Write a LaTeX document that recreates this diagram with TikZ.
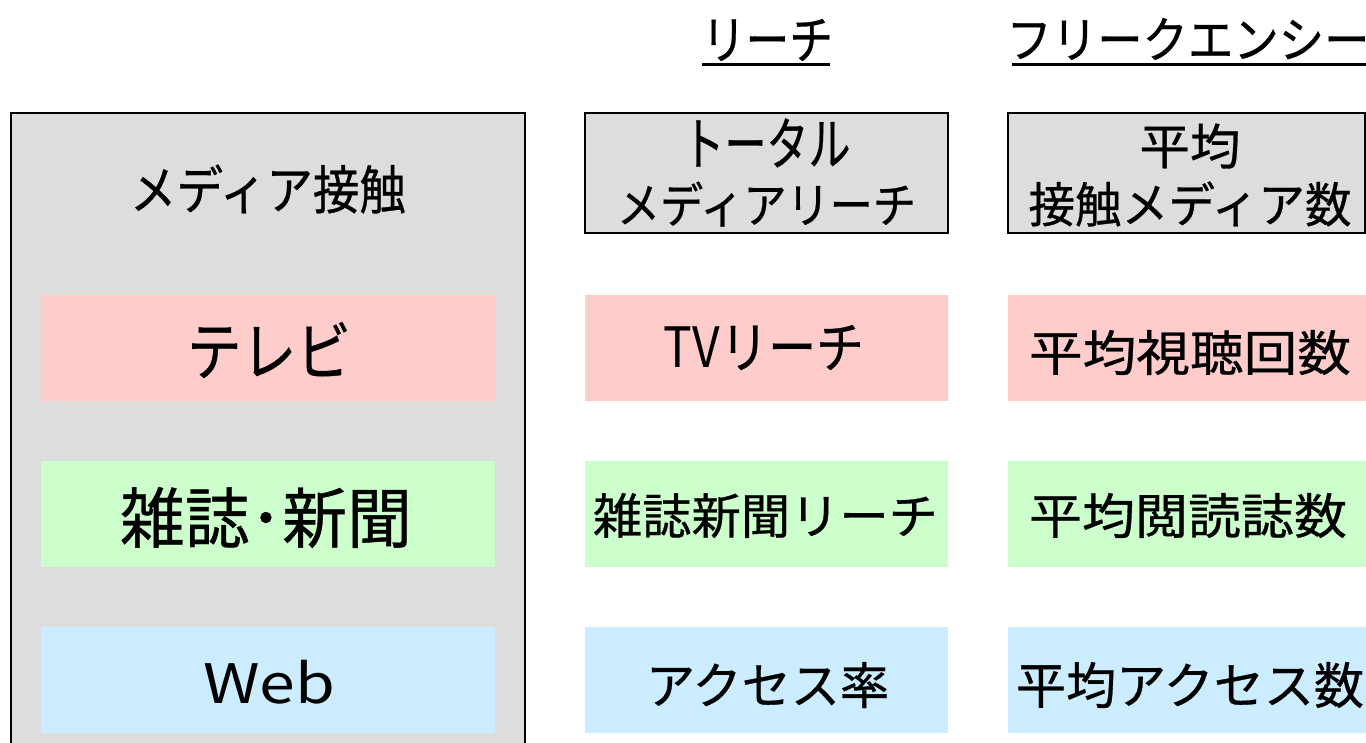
\documentclass[tikz,border=0pt]{standalone}
\usepackage{fontspec}
\setmainfont{Noto Sans CJK JP}
\newfontfamily\jpb[FakeBold=0.6]{Noto Sans CJK JP}
\usepackage{graphicx}
\definecolor{boxgray}{HTML}{DDDDDD}
\definecolor{tvpink}{HTML}{FFCCCC}
\definecolor{prgreen}{HTML}{CCFFCC}
\definecolor{webblue}{HTML}{CCECFF}
\newcommand{\fb}[3]{\resizebox*{#1pt}{#2pt}{\jpb #3}}
\begin{document}
\begin{tikzpicture}[x=1pt,y=-1pt,
  panel/.style={fill=boxgray, draw=black, line width=1.5pt, inner sep=0pt, outer sep=0pt},
  cell/.style={draw=none, inner sep=0pt, outer sep=0pt, minimum height=106pt},
  leftcell/.style={cell, minimum width=454pt},
  midcell/.style={cell, minimum width=363pt},
  rightcell/.style={cell, minimum width=358pt},
  txt/.style={inner sep=0pt, outer sep=0pt, anchor=center},
  two/.style={txt, align=center, font=\fontsize{10}{58}\selectfont},
  uline/.style={line width=2.2pt},
]
\useasboundingbox (0,0) rectangle (1366,742);
\clip (0,0) rectangle (1366,742);

% left panel
\node[panel, minimum width=514pt, minimum height=660pt] (media) at (268,443) {};
\node[txt] (tmedia) at (268,189) {\fb{276}{49}{メディア接触}};
\node[leftcell, fill=tvpink] (tv) at (268,348) {};
\node[txt] (ttv) at (269,350) {\fb{164}{56}{テレビ}};
\node[leftcell, fill=prgreen] (pr) at (268,514) {};
\node[txt] (tpr) at (266,517.5) {\fb{292}{61}{雑誌･新聞}};
\node[leftcell, fill=webblue] (web) at (268,680) {};
\node[txt] (tweb) at (269,682) {\resizebox*{132pt}{44pt}{Web}};

% headers
\node[txt] (hreach) at (767.5,40) {\fb{131}{42}{リーチ}};
\node[txt] (hfreq) at (1188,39) {\fb{363}{42}{フリークエンシー}};
\draw[uline] (702,64.5) -- (830,64.5);
\draw[uline] (1012,64.5) -- (1366,64.5);

% reach column
\node[panel, minimum width=363pt, minimum height=120pt] (total) at (766.5,173) {};
\node[two] (ttotal) at (766.5,172.5) {\fb{168}{49}{トータル}\\\fb{299}{45}{メディアリーチ}};
\node[midcell, fill=tvpink] (tvr) at (766.5,348) {};
\node[txt] (ttvr) at (764,347.5) {\resizebox*{200pt}{45pt}{TV\jpb リーチ}};
\node[midcell, fill=prgreen] (prr) at (766.5,514) {};
\node[txt] (tprr) at (765.5,515.5) {\fb{345}{45}{雑誌新聞リーチ}};
\node[midcell, fill=webblue] (webr) at (766.5,680) {};
\node[txt] (twebr) at (767.5,685) {\fb{243}{46}{アクセス率}};

% frequency column
\node[panel, minimum width=357pt, minimum height=120pt] (avg) at (1186.5,173) {};
\node[two] (tavg) at (1190,175) {\fb{101}{45}{平均}\\\fb{323}{45}{接触メディア数}};
\node[rightcell, fill=tvpink] (tvf) at (1187,348) {};
\node[txt] (ttvf) at (1190,352.5) {\fb{322}{45}{平均視聴回数}};
\node[rightcell, fill=prgreen] (prf) at (1187,514) {};
\node[txt] (tprf) at (1188,515.5) {\fb{318}{45}{平均閲読誌数}};
\node[rightcell, fill=webblue] (webf) at (1187,680) {};
\node[txt] (twebf) at (1190,685) {\fb{348}{46}{平均アクセス数}};
\end{tikzpicture}
\end{document}
